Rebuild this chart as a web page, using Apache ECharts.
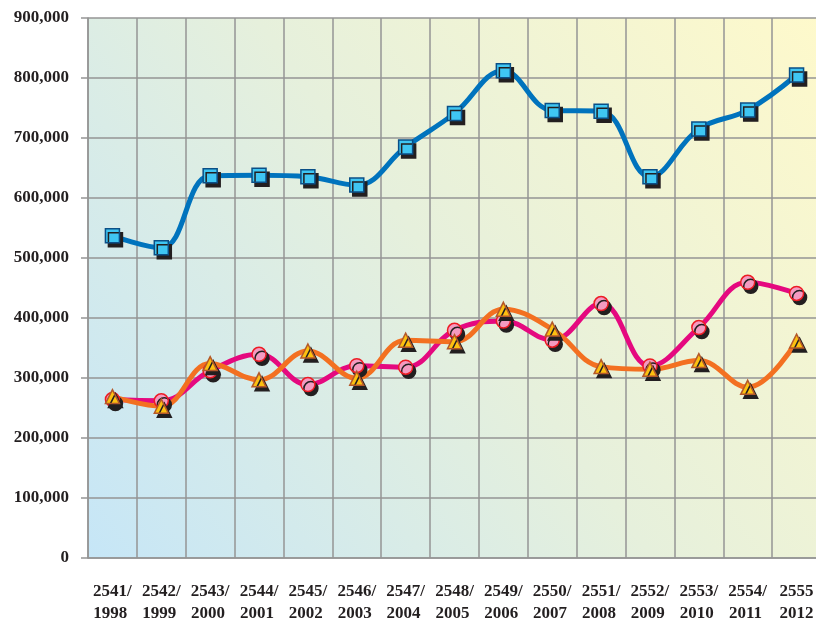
<!DOCTYPE html>
<html>
<head>
<meta charset="utf-8">
<script src="https://cdn.jsdelivr.net/npm/echarts@6/dist/echarts.min.js"></script>
<style>
html,body{margin:0;padding:0;background:#fff;}
#main{width:816px;height:622px;}
</style>
</head>
<body>
<div id="main"></div>
<script>
var categories = ['2541/\n1998','2542/\n1999','2543/\n2000','2544/\n2001','2545/\n2002','2546/\n2003','2547/\n2004','2548/\n2005','2549/\n2006','2550/\n2007','2551/\n2008','2552/\n2009','2553/\n2010','2554/\n2011','2555\n2012'];
var blueData = [537000,517000,637000,638000,635500,621500,685000,741000,812000,746000,744500,635500,715000,746500,805000];
var pinkData = [264000,262000,312000,339500,289000,320500,318000,379500,395000,363000,424000,320000,384000,459500,441000];
var orangeData = [269000,253000,324000,297000,345000,299500,363000,360500,414500,381500,319000,314500,329000,284500,361500];
var yTicks = [0,100000,200000,300000,400000,500000,600000,700000,800000,900000];

var labelFont = {fontFamily:'Liberation Serif', fontWeight:'bold', fontSize:17, color:'#231f20'};

function makeSeries(name, data, lineColor, symbol, size, fill, border){
	return {
		name: name,
		type: 'line',
		smooth: 0.4,
		data: data,
		symbol: symbol,
		symbolSize: size,
		lineStyle: {color: lineColor, width: 5},
		itemStyle: {
			color: fill,
			borderColor: border,
			borderWidth: 1.5,
			shadowColor: '#231f20',
			shadowBlur: 0,
			shadowOffsetX: 3,
			shadowOffsetY: 4
		},
		emphasis: {disabled: true}
	};
}

var myChart = echarts.init(document.getElementById('main'));
var option = {
	animation: false,
	grid: {
		left: 88,
		right: -5,
		top: 18,
		bottom: 64,
		outerBoundsMode: 'none',
		containLabel: false,
		show: true,
		borderWidth: 0,
		backgroundColor: {
			type: 'linear', x: 0, y: 1, x2: 1, y2: 0,
			colorStops: [
				{offset: 0, color: '#c6e6f7'},
				{offset: 0.5, color: '#e6f0dc'},
				{offset: 1, color: '#fef9cb'}
			]
		}
	},
	xAxis: {
		type: 'category',
		boundaryGap: true,
		data: categories,
		axisLine: {lineStyle: {color: '#959595', width: 1.5}},
		axisTick: {show: false},
		splitLine: {show: true, interval: 0, lineStyle: {color: '#959595', width: 1.5}},
		axisLabel: {
			interval: 0,
			margin: 23,
			lineHeight: 22,
			fontFamily: labelFont.fontFamily,
			fontWeight: labelFont.fontWeight,
			fontSize: labelFont.fontSize,
			color: labelFont.color,
			formatter: function(v){
				var p = v.split('\n');
				if(p[0].slice(-1) == '/'){ return p[0] + '\n' + p[1] + ' '; }
				return v;
			}
		}
	},
	yAxis: {
		type: 'value',
		min: yTicks[0],
		max: yTicks[yTicks.length-1],
		interval: 100000,
		axisLine: {show: true, lineStyle: {color: '#959595', width: 1.5}},
		axisTick: {show: true, length: 7, lineStyle: {color: '#959595', width: 1.5}},
		splitLine: {show: true, lineStyle: {color: '#959595', width: 1.5}},
		axisLabel: {
			margin: 19,
			fontFamily: labelFont.fontFamily,
			fontWeight: labelFont.fontWeight,
			fontSize: labelFont.fontSize,
			color: labelFont.color,
			formatter: function(v){ return v.toLocaleString('en-US'); }
		}
	},
	series: [
		makeSeries('blue', blueData, '#0073bd', 'rect', 14, '#3fc6f3', '#0b4f86'),
		makeSeries('pink', pinkData, '#e5097f', 'circle', 14, '#f49ac1', '#ed1c24'),
		makeSeries('orange', orangeData, '#f37021', 'triangle', 14, '#fdc010', '#b4592a')
	]
};
myChart.setOption(option);
</script>
</body>
</html>
